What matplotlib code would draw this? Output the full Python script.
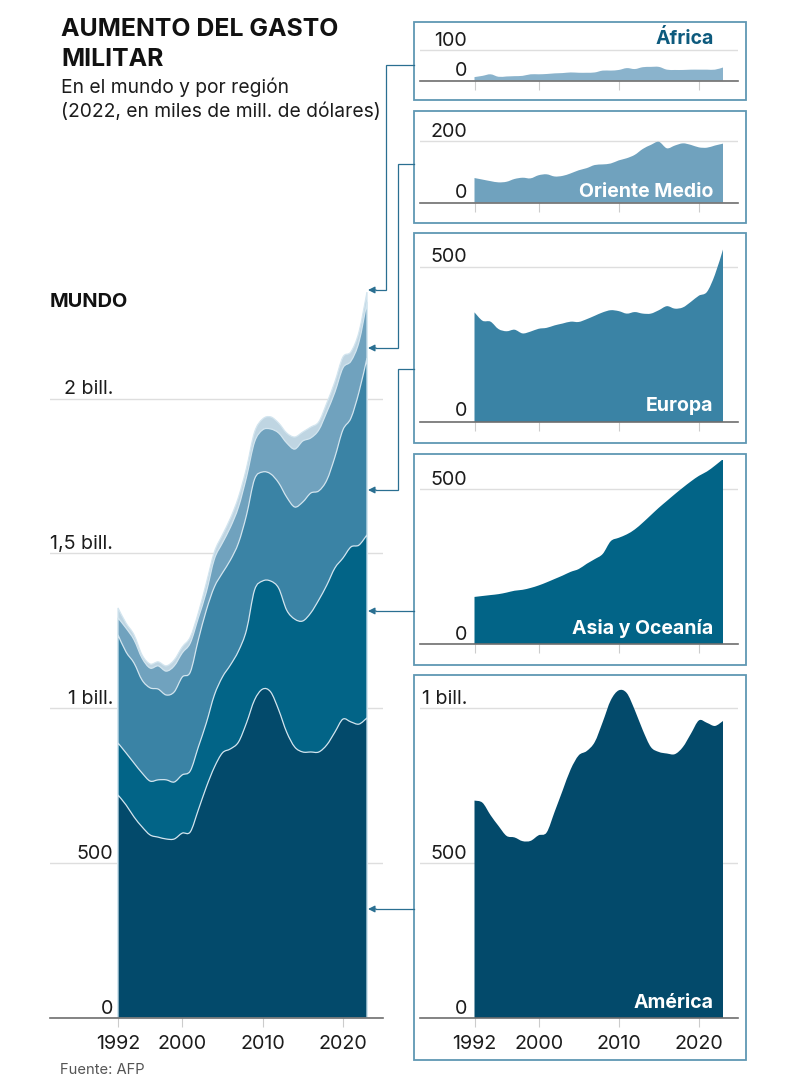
import numpy as np
import matplotlib
matplotlib.use("Agg")
import matplotlib.pyplot as plt
from matplotlib.patches import PathPatch
from matplotlib.path import Path

plt.rcParams['font.family'] = ['Inter', 'DejaVu Sans']

# --- data (miles de mill. de dolares) ---
years = np.arange(1992, 2024)

# side panels
america = [702, 695, 655, 620, 588, 583, 571, 572, 590, 599, 666, 735, 803, 848, 862, 891,
           956, 1026, 1058, 1049, 994, 929, 875, 859, 854, 852, 875, 918, 961, 953, 943, 959]
asia = [152, 155, 158, 161, 166, 172, 175, 181, 189, 199, 210, 221, 233, 242, 259, 274,
        291, 332, 343, 354, 370, 392, 416, 440, 462, 484, 505, 525, 543, 557, 576, 597]
europa = [354, 327, 324, 300, 293, 298, 286, 292, 301, 304, 312, 318, 324, 323, 332, 343,
          354, 361, 358, 350, 355, 350, 350, 361, 374, 366, 370, 388, 408, 420, 476, 557]
oriente = [79, 74, 69, 65, 67, 76, 80, 78, 88, 91, 84, 86, 94, 104, 111, 121,
           123, 126, 136, 143, 154, 173, 186, 196, 175, 184, 191, 186, 178, 177, 184, 190]
africa = [11, 15, 20, 12, 13, 14, 15, 20, 20, 21, 23, 24, 26, 25, 25, 26,
          32, 32, 34, 40, 37, 43, 44, 44, 35, 34, 34, 35, 35, 35, 35, 42]

# main chart, running totals of the stack as they appear there
mundo_america = [720, 688, 649, 617, 591, 584, 578, 578, 597, 601, 672, 746, 810, 856, 869, 891,
                 953, 1027, 1062, 1053, 995, 923, 875, 859, 859, 859, 882, 923, 965, 956, 949, 969]
mundo_asia = [888, 856, 823, 791, 765, 769, 769, 762, 785, 798, 875, 953, 1043, 1101, 1140, 1185,
              1253, 1382, 1411, 1411, 1388, 1317, 1288, 1282, 1308, 1350, 1398, 1453, 1485, 1521, 1527, 1560]
mundo_europa = [1237, 1182, 1146, 1091, 1066, 1062, 1043, 1053, 1101, 1117, 1221, 1317, 1392, 1437, 1479, 1534,
                1624, 1740, 1763, 1757, 1728, 1682, 1650, 1666, 1695, 1702, 1737, 1811, 1899, 1937, 2021, 2131]
mundo_oriente = [1292, 1259, 1221, 1162, 1130, 1137, 1120, 1137, 1179, 1211, 1292, 1376, 1482, 1534, 1585, 1650,
                 1747, 1860, 1899, 1902, 1889, 1857, 1837, 1863, 1873, 1899, 1957, 2021, 2099, 2121, 2183, 2312]
mundo_africa = [1324, 1275, 1237, 1172, 1143, 1150, 1137, 1156, 1198, 1230, 1308, 1405, 1505, 1560, 1614, 1682,
                1776, 1892, 1934, 1941, 1921, 1889, 1876, 1892, 1908, 1925, 1986, 2054, 2134, 2151, 2215, 2344]

main_ticks = [1992, 2000, 2010, 2020]
main_yvals = [0, 500, 1000, 1500, 2000]
main_ylabels = ['0', '500', '1 bill.', '1,5 bill.', '2 bill.']

COL_AME = '#034a6b'
COL_ASI = '#026487'
COL_EUR = '#3a83a5'
COL_ORI = '#70a2be'
COL_AFR_MAIN = '#bfd5e2'
COL_AFR_INSET = '#8ab3cc'
COL_BORDER = '#5f97b3'
COL_ARROW = '#2a6f91'
COL_TEXT = '#1c1c1c'
COL_GRID = '#dedede'
COL_BASE = '#6e6e6e'
COL_TICK = '#cccccc'
FS = 14.2

W, H = 800, 1084
PX_PER_UNIT = 0.3097  # all panels share the same vertical scale

fig = plt.figure(figsize=(W / 100, H / 100), dpi=100, facecolor='white')


def px_axes(left, top, right, bottom, **kw):
    return fig.add_axes([left / W, 1 - bottom / H, (right - left) / W, (bottom - top) / H], **kw)


def style_axes(ax, left, right, top, bottom, x0, x1, ticks, yvals):
    slope = (x1 - x0) / (2023 - 1992)
    ax.set_xlim(1992 - (x0 - left) / slope, 1992 + (right - x0) / slope)
    ax.set_ylim(0, (bottom - top) / PX_PER_UNIT)
    ax.patch.set_alpha(0)
    for s in ['top', 'left', 'right']:
        ax.spines[s].set_visible(False)
    ax.spines['bottom'].set_color(COL_BASE)
    ax.spines['bottom'].set_linewidth(1.2)
    ax.spines['bottom'].set_zorder(5)
    ax.set_xticks(ticks)
    ax.tick_params(axis='x', length=6.8, width=0.8, color=COL_TICK, labelbottom=False)
    ax.set_yticks(yvals)
    ax.tick_params(axis='y', length=0, labelleft=False)
    ax.set_axisbelow(True)
    ax.grid(axis='y', color=COL_GRID, linewidth=1)
    ax.grid(axis='x', visible=False)


def smooth_area(ax, xs, ys, color, edge=None, lw=0.0):
    # area down to zero, outline as a curve through the yearly values
    pts = np.column_stack([xs, ys]).astype(float)
    verts = [(pts[0, 0], 0), tuple(pts[0])]
    codes = [Path.MOVETO, Path.LINETO]
    for i in range(len(pts) - 1):
        prev = pts[max(i - 1, 0)]
        nxt = pts[min(i + 2, len(pts) - 1)]
        verts += [tuple(pts[i] + (pts[i + 1] - prev) / 6),
                  tuple(pts[i + 1] - (nxt - pts[i]) / 6),
                  tuple(pts[i + 1])]
        codes += [Path.CURVE4] * 3
    verts += [(pts[-1, 0], 0), (pts[0, 0], 0)]
    codes += [Path.LINETO, Path.CLOSEPOLY]
    ax.add_patch(PathPatch(Path(verts, codes), facecolor=color, edgecolor=edge or color,
                           linewidth=lw, zorder=3))


def ylabel(ax, frac, val, txt, off):
    ax.annotate(txt, xy=(frac, val), xycoords=ax.get_yaxis_transform(),
                xytext=(0, off * 0.72), textcoords='offset points',
                ha='right', va='bottom', fontsize=FS, color=COL_TEXT, zorder=6)


def year_labels(ax):
    for yr in main_ticks:
        ax.annotate(str(yr), xy=(yr, 0), xycoords=ax.get_xaxis_transform(),
                    xytext=(0, -12), textcoords='offset points',
                    ha='center', va='top', fontsize=FS, color=COL_TEXT)


# --- main chart ---
M_L, M_R, M_T, M_B = 50, 383, 280, 1018
ax = px_axes(M_L, M_T, M_R, M_B)
style_axes(ax, M_L, M_R, M_T, M_B, 118, 367, main_ticks, main_yvals)
main_layers = [(mundo_africa, COL_AFR_MAIN), (mundo_oriente, COL_ORI), (mundo_europa, COL_EUR),
               (mundo_asia, COL_ASI), (mundo_america, COL_AME)]
for tops, col in main_layers:
    smooth_area(ax, years, tops, col, edge='#d3e5ef', lw=0.9)
for v, t in zip(main_yvals, main_ylabels):
    ylabel(ax, (113 - M_L) / (M_R - M_L), v, t, 0.5)
year_labels(ax)

# --- side panels ---
I_L, I_R = 420, 738
panels = [
    # name, values, colour, label colour, label y, box top, box bottom, baseline, axes top, gridlines, labels, label offset
    ('África', africa, COL_AFR_INSET, '#0d5a7d', 39, 21.5, 99.5, 80.5, 30, [0, 100], ['0', '100'], 0.0),
    ('Oriente Medio', oriente, COL_ORI, 'white', 192, 110.5, 222.5, 202.5, 118, [0, 200], ['0', '200'], 0.0),
    ('Europa', europa, COL_EUR, 'white', 406, 233, 443, 422, 240, [0, 500], ['0', '500'], 1.5),
    ('Asia y Oceanía', asia, COL_ASI, 'white', 628, 454, 665, 644, 460, [0, 500], ['0', '500'], 0.0),
    ('América', america, COL_AME, 'white', 1003, 675, 1060, 1018, 682, [0, 500, 1000], ['0', '500', '1 bill.'], 0.0),
]

overlay = px_axes(0, 0, W, H)
overlay.set_xlim(0, W)
overlay.set_ylim(H, 0)
overlay.axis('off')
overlay.set_zorder(10)

for name, vals, col, lab_col, lab_y, b_top, b_bot, base, a_top, yv, yl, off in panels:
    overlay.add_patch(plt.Rectangle((414, b_top), 331.5, b_bot - b_top, fill=False,
                                    edgecolor=COL_BORDER, linewidth=1.3))
    a = px_axes(I_L, a_top, I_R, base)
    style_axes(a, I_L, I_R, a_top, base, 474.5, 723, main_ticks, yv)
    smooth_area(a, years, vals, col)
    for v, t in zip(yv, yl):
        ylabel(a, (467 - I_L) / (I_R - I_L), v, t, off)
    overlay.text(713.5, lab_y, name, ha='right', va='center',
                 fontsize=14, fontweight='bold', color=lab_col)
    if name == 'América':
        year_labels(a)


# --- connectors ---
def connector(points):
    xs, ys = zip(*points)
    overlay.plot(xs, ys, color=COL_ARROW, linewidth=0.9, solid_joinstyle='miter')
    overlay.annotate('', xy=(368, ys[-1]), xytext=(xs[-1], ys[-1]),
                     arrowprops=dict(arrowstyle='-|>,head_length=0.4,head_width=0.2', color=COL_ARROW,
                                     linewidth=0.9, shrinkA=0, shrinkB=0))


connector([(414, 64.5), (386, 64.5), (386, 290), (376, 290)])
connector([(414, 164), (398, 164), (398, 348), (376, 348)])
connector([(414, 368.5), (398, 368.5), (398, 490), (376, 490)])
connector([(414, 611), (376, 611)])
connector([(414, 909), (376, 909)])

# --- texts ---
overlay.text(61, 30, 'AUMENTO DEL GASTO', fontsize=17.9, fontweight='bold', color='#111111', va='center')
overlay.text(61, 60, 'MILITAR', fontsize=17.9, fontweight='bold', color='#111111', va='center')
overlay.text(61, 87.5, 'En el mundo y por región', fontsize=13.85, color=COL_TEXT, va='center')
overlay.text(61, 111.5, '(2022, en miles de mill. de dólares)', fontsize=13.85, color=COL_TEXT, va='center')
overlay.text(50, 302, 'MUNDO', fontsize=14.4, fontweight='bold', color='#111111', va='center')
overlay.text(60, 1070, 'Fuente: AFP', fontsize=10.6, color='#555555', va='center')

fig.savefig('out.png', dpi=100)
